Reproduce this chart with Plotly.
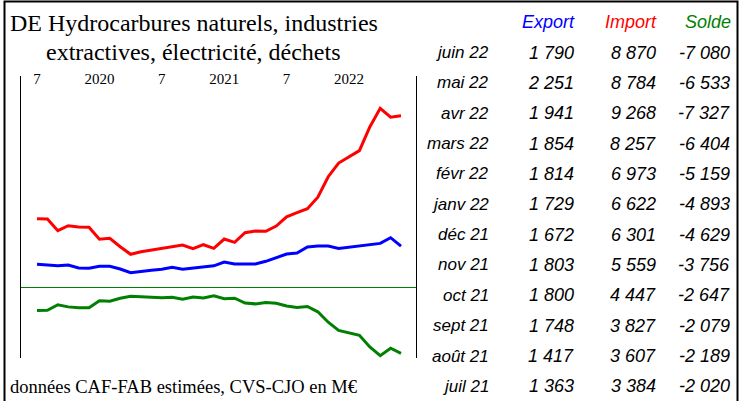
import plotly.graph_objects as go

# ---- chart data (monthly, Jul 2019 .. Jun 2022), M EUR ----
months = [f"{y}-{m:02d}" for y in (2019, 2020, 2021, 2022) for m in range(1, 13)]
months = months[6:6 + 36]

imports = [3281, 3265, 2630, 2901, 2831, 2815, 2164, 2218, 1762, 1350, 1491, 1583,
           1708, 1762, 1855, 1654, 1871, 1676, 2180, 2001, 2522, 2614, 2597, 2885,
           3384, 3607, 3827, 4447, 5559, 6301, 6622, 6973, 8257, 9268, 8784, 8870]
exports = [808, 786, 732, 770, 607, 591, 700, 700, 553, 352, 428, 483,
           537, 645, 537, 591, 662, 725, 933, 824, 824, 824, 971, 1166,
           1363, 1417, 1748, 1800, 1803, 1672, 1729, 1814, 1854, 1941, 2251, 1790]
solde = [-2520, -2480, -1890, -2120, -2215, -2220, -1460, -1520, -1200, -980, -1050, -1080,
         -1150, -1090, -1300, -1080, -1180, -950, -1245, -1190, -1720, -1800, -1650, -1730,
         -2020, -2189, -2079, -2647, -3756, -4629, -4893, -5159, -6404, -7327, -6533, -7080]

tick_vals = ["2019-07", "2020-01", "2020-07", "2021-01", "2021-07", "2022-01"]
tick_text = ["7", "2020", "7", "2021", "7", "2022"]

# ---- table data ----
table_months = ["juin 22", "mai 22", "avr 22", "mars 22", "févr 22", "janv 22",
                "déc 21", "nov 21", "oct 21", "sept 21", "août 21", "juil 21"]
table_export = [1790, 2251, 1941, 1854, 1814, 1729, 1672, 1803, 1800, 1748, 1417, 1363]
table_import = [8870, 8784, 9268, 8257, 6973, 6622, 6301, 5559, 4447, 3827, 3607, 3384]
table_solde = [-7080, -6533, -7327, -6404, -5159, -4893, -4629, -3756, -2647, -2079, -2189, -2020]

title1 = "DE Hydrocarbures naturels, industries"
title2 = "extractives, électricité, déchets"
footer = "données CAF-FAB estimées, CVS-CJO en M€"

RED, BLUE, GREEN = "#FF0000", "#0000FF", "#008000"
SERIF = "Liberation Serif, Times New Roman, serif"
SANS = "Liberation Sans, Arial, sans-serif"

W, H = 740, 401
L, R, T, B = 21, 324, 76, 43
PW, PH = W - L - R, H - T - B


def px(x):
    return (x - L) / PW


def py(y):
    return (H - B - y) / PH


def fmt(v):
    return f"{v:,}".replace(",", " ")


fig = go.Figure()
fig.add_trace(go.Scatter(x=months, y=solde, mode="lines", yaxis="y2",
                         line=dict(color=GREEN, width=3), name="Solde"))
fig.add_trace(go.Scatter(x=months, y=exports, mode="lines",
                         line=dict(color=BLUE, width=3), name="Export"))
fig.add_trace(go.Scatter(x=months, y=imports, mode="lines",
                         line=dict(color=RED, width=3), name="Import"))

ann = []
ann.append(dict(text=title1, x=px(193.5), y=py(23), xanchor="center", yanchor="middle",
                font=dict(family=SERIF, size=24, color="black")))
ann.append(dict(text=title2, x=px(193), y=py(52), xanchor="center", yanchor="middle",
                font=dict(family=SERIF, size=24, color="black")))
ann.append(dict(text=footer, x=px(8), y=py(387), xanchor="left", yanchor="middle",
                font=dict(family=SERIF, size=18.5, color="black")))

col_right = [577, 659, 733]
headers = [("Export", BLUE), ("Import", RED), ("Solde", GREEN)]
for (h, c), xr in zip(headers, col_right):
    ann.append(dict(text=h, x=px(xr), y=py(22), xanchor="right", yanchor="middle",
                    font=dict(family=SANS, size=18, color=c, style="italic")))

for k, (m, e, i, s) in enumerate(zip(table_months, table_export, table_import, table_solde)):
    yy = py(52.5 + 30.35 * k)
    ann.append(dict(text=m, x=px(491), y=yy, xanchor="right", yanchor="middle",
                    font=dict(family=SANS, size=17, color="black", style="italic")))
    for v, xr in zip((e, i, s), (576, 658, 732)):
        ann.append(dict(text=fmt(v), x=px(xr), y=yy, xanchor="right",
                        yanchor="middle",
                        font=dict(family=SANS, size=18, color="black", style="italic")))

for a in ann:
    a.update(xref="paper", yref="paper", showarrow=False)

fig.update_layout(
    width=W, height=H, autosize=False,
    margin=dict(l=L, r=R, t=T, b=B, pad=0),
    paper_bgcolor="white", plot_bgcolor="white",
    showlegend=False,
    annotations=ann,
    shapes=[dict(type="rect", xref="paper", yref="paper",
                 x0=px(4.5), x1=px(737.5), y0=py(404), y1=py(1.5),
                 line=dict(color="black", width=2), fillcolor="rgba(0,0,0,0)")],
    xaxis=dict(type="category", range=[-1.54, 36.44], side="top",
               ticklabelposition="inside", ticklabelstandoff=-6,
               tickvals=tick_vals, ticktext=tick_text,
               ticks="", showline=False, showgrid=False, zeroline=False,
               tickfont=dict(family=SERIF, size=15, color="black")),
    yaxis=dict(range=[-4273, 11020], showline=True, linecolor="black", linewidth=1,
               showgrid=False, zeroline=False, showticklabels=False, ticks=""),
    yaxis2=dict(range=[-7577, 22519], overlaying="y", side="right", showline=True,
                linecolor="black", linewidth=1, showgrid=False, zeroline=True,
                zerolinecolor=GREEN, zerolinewidth=1, showticklabels=False, ticks=""),
)

fig.write_html(
    "out.html",
    config={"displayModeBar": False},
    post_script="document.body.style.margin='0';document.body.style.padding='0';"
                "document.body.style.overflow='hidden';",
)
